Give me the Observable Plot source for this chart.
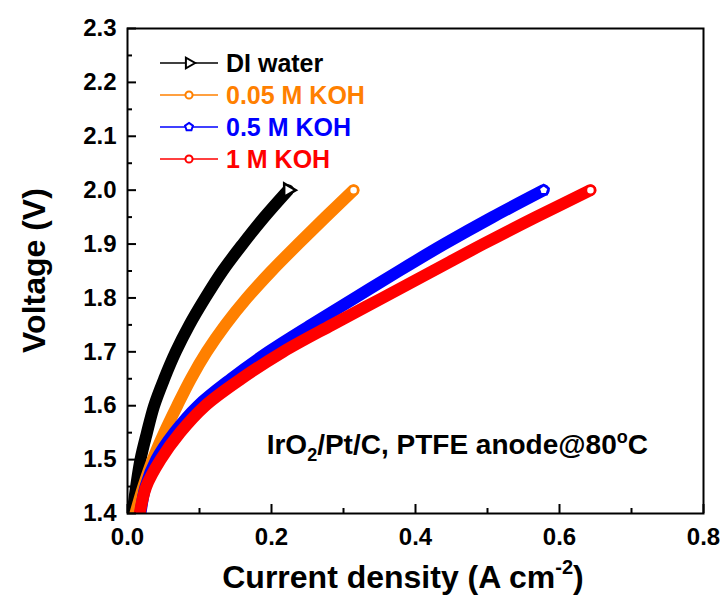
<!DOCTYPE html>
<html><head><meta charset="utf-8">
<script src="https://cdn.jsdelivr.net/npm/d3@7"></script>
<script src="https://cdn.jsdelivr.net/npm/@observablehq/plot@0.6"></script>
<style>
body{margin:0;background:#fff}
#chart{position:relative;width:722px;height:595px}
</style>
</head><body><div id="chart"></div>
<script>
// ---- data ----
const voltage = [1.40,1.45,1.50,1.55,1.60,1.65,1.70,1.75,1.80,1.85,1.90,1.95,2.00];
const diWater = [0.007,0.012,0.018,0.027,0.037,0.051,0.067,0.086,0.108,0.132,0.160,0.190,0.223];
const koh005  = [0.011,0.022,0.035,0.051,0.069,0.088,0.110,0.136,0.166,0.200,0.237,0.275,0.314];
const koh05   = [0.018,0.025,0.040,0.065,0.098,0.144,0.196,0.255,0.316,0.377,0.440,0.507,0.578];
const koh1    = [0.017,0.026,0.046,0.073,0.108,0.158,0.216,0.284,0.354,0.424,0.494,0.567,0.643];
const seriesNames  = ["DI water","0.05 M KOH","0.5 M KOH","1 M KOH"];
const seriesColors = ["#000000","#FF8000","#0000FF","#FF0000"];
const xTicks = [0,0.2,0.4,0.6,0.8];
const xMinorTicks = [0.1,0.3,0.5,0.7];
const yTicks = [1.4,1.5,1.6,1.7,1.8,1.9,2.0,2.1,2.2,2.3];
const yMinorTicks = [1.45,1.55,1.65,1.75,1.85,1.95,2.05,2.15,2.25];

const seriesValues = [diWater, koh005, koh05, koh1];
const rows = seriesNames.flatMap((name, i) =>
  voltage.map((v, k) => ({series: name, v, j: seriesValues[i][k]})));
const lastRows = seriesNames.map((name, i) =>
  ({series: name, v: voltage[voltage.length-1], j: seriesValues[i][voltage.length-1]}));

const pentagon = {
  draw(ctx, size) {
    const r = Math.sqrt(size / Math.PI) * 1.15;
    for (let i = 0; i < 5; i++) {
      const a = -Math.PI/2 + i * 2*Math.PI/5;
      const px = r*Math.cos(a), py = r*Math.sin(a);
      if (i === 0) ctx.moveTo(px, py); else ctx.lineTo(px, py);
    }
    ctx.closePath();
  }
};
const symbols = ["triangle", "circle", pentagon, "circle"];
const rotates = [90, 0, 0, 0];

const W = 722, H = 595;
const mL = 127, mR = 19, mT = 28, mB = 82;
const plotW = W - mL - mR, plotH = H - mT - mB;
const font = "'Liberation Sans', Arial, Helvetica, sans-serif";

const plot = Plot.plot({
  width: W, height: H,
  marginLeft: mL, marginRight: mR, marginTop: mT, marginBottom: mB,
  style: {fontFamily: font, fontWeight: "bold", background: "#fff", color: "#000"},
  x: {domain: [0, 0.8], label: null},
  y: {domain: [1.4, 2.3], label: null},
  color: {domain: seriesNames, range: seriesColors},
  marks: [
    Plot.line(rows, {x: "j", y: "v", z: "series", stroke: "series", strokeWidth: 12,
      curve: "catmull-rom", strokeLinecap: "round", strokeLinejoin: "round", clip: true}),
    ...seriesNames.map((name, i) => Plot.dot([lastRows[i]], {
      x: "j", y: "v", symbol: symbols[i], rotate: rotates[i], r: i === 0 ? 5 : 4.5,
      fill: "white", stroke: seriesColors[i], strokeWidth: 2.5})),
    Plot.ruleY(yMinorTicks, {y: d => d, insetRight: plotW - 5, stroke: "black", strokeWidth: 2}),
    Plot.ruleY(yTicks, {y: d => d, insetRight: plotW - 9, stroke: "black", strokeWidth: 2}),
    Plot.ruleX(xMinorTicks, {x: d => d, insetTop: plotH - 5, stroke: "black", strokeWidth: 2}),
    Plot.ruleX(xTicks, {x: d => d, insetTop: plotH - 9, stroke: "black", strokeWidth: 2}),
    Plot.frame({stroke: "black", strokeWidth: 2}),
    Plot.axisY(yTicks, {tickSize: 0, tickPadding: 11, fontSize: 24, fontWeight: "bold",
      tickFormat: d3.format(".1f"), label: null}),
    Plot.axisX(xTicks, {tickSize: 0, tickPadding: 14, fontSize: 24, fontWeight: "bold",
      tickFormat: d3.format(".1f"), label: null})
  ]
});
document.getElementById("chart").appendChild(plot);

const svg = d3.select(plot);
const xs = plot.scale("x");

// ---- legend ----
const legendX0 = 160, legendX1 = 218, legendM = 189, legendT = 226;
const legendRows = [63, 95, 127, 159];
const lg = svg.append("g").attr("font-family", font).attr("font-weight", "bold")
  .attr("text-anchor", "start");
seriesNames.forEach((name, i) => {
  const y = legendRows[i];
  lg.append("line").attr("x1", legendX0).attr("x2", legendX1).attr("y1", y).attr("y2", y)
    .attr("stroke", seriesColors[i]).attr("stroke-width", 1.3);
  let path;
  if (i === 0) path = d3.symbol(d3.symbolTriangle, 50)();
  else if (i === 2) path = d3.symbol(pentagon, 40)();
  else path = d3.symbol(d3.symbolCircle, 40)();
  lg.append("path").attr("d", path)
    .attr("transform", `translate(${legendM},${y})` + (i === 0 ? " rotate(90)" : ""))
    .attr("fill", "white").attr("stroke", seriesColors[i]).attr("stroke-width", 2);
  lg.append("text").attr("x", legendT).attr("y", y + 9).attr("font-size", 25)
    .attr("text-anchor", "start").attr("fill", seriesColors[i]).text(name);
});

// ---- annotation ----
const ann = svg.append("text").attr("x", xs.apply(0.194)).attr("y", 454)
  .attr("text-anchor", "start")
  .attr("font-family", font).attr("font-weight", "bold").attr("font-size", 28).attr("fill", "#000");
ann.append("tspan").text("IrO");
ann.append("tspan").attr("font-size", 18).attr("dy", 7).text("2");
ann.append("tspan").attr("dy", -7).text("/Pt/C, PTFE anode@80");
ann.append("tspan").attr("font-size", 18).attr("dy", -11).text("o");
ann.append("tspan").attr("dy", 11).text("C");

// ---- axis titles ----
const xt = svg.append("text").attr("x", 403).attr("y", 588).attr("text-anchor", "middle")
  .attr("font-family", font).attr("font-weight", "bold").attr("font-size", 32).attr("fill", "#000");
xt.append("tspan").text("Current density (A cm");
xt.append("tspan").attr("font-size", 20).attr("dy", -14).text("-2");
xt.append("tspan").attr("dy", 14).text(")");

svg.append("text").attr("transform", `translate(45,${(mT + H - mB)/2}) rotate(-90)`)
  .attr("text-anchor", "middle").attr("font-family", font).attr("font-weight", "bold")
  .attr("font-size", 32).attr("fill", "#000").text("Voltage (V)");
</script>
</body></html>
